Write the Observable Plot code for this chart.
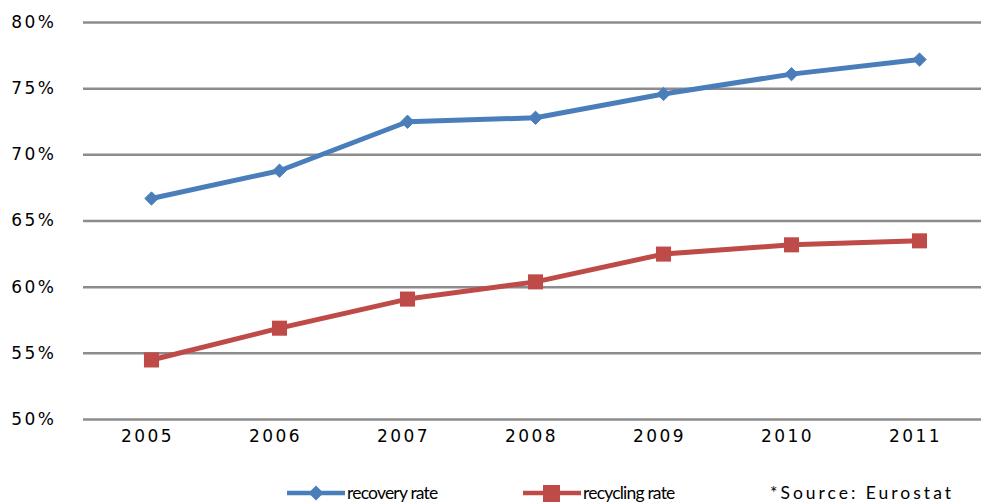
<!DOCTYPE html>
<html>
<head>
<meta charset="utf-8">
<script src="https://cdn.jsdelivr.net/npm/d3@7"></script>
<script src="https://cdn.jsdelivr.net/npm/@observablehq/plot@0.6"></script>
<style>
  body { margin: 0; background: #fff; font-family: "DejaVu Sans", sans-serif; }
  #wrap { width: 981px; position: relative; }
  #legend { position: relative; height: 44px; width: 981px; color: #000; }
  #legend .item { position: absolute; top: 22px; display: flex; align-items: center; white-space: nowrap; }
  #legend svg { display: block; }
</style>
</head>
<body>
<div id="wrap"></div>
<script>
const years = [2005, 2006, 2007, 2008, 2009, 2010, 2011];
const recoveryRate = [66.7, 68.8, 72.5, 72.8, 74.6, 76.1, 77.2];
const recyclingRate = [54.5, 56.9, 59.1, 60.4, 62.5, 63.2, 63.5];
const yTicks = [50, 55, 60, 65, 70, 75, 80];
const seriesNames = ["recovery rate", "recycling rate"];
const sourceNote = "*Source: Eurostat";

const blue = "#4a7ebb";
const red = "#be4b48";

const recovery = years.map((y, i) => ({year: y, value: recoveryRate[i]}));
const recycling = years.map((y, i) => ({year: y, value: recyclingRate[i]}));

const chart = Plot.plot({
  width: 981,
  height: 460,
  marginLeft: 83,
  marginRight: 0,
  marginTop: 22,
  marginBottom: 41,
  style: {fontFamily: "DejaVu Sans, sans-serif", fontSize: "17px", letterSpacing: "2.5px", color: "#000", background: "#fff"},
  x: {type: "point", domain: years, range: [148, 921], padding: 0, axis: null},
  y: {domain: [50, 80], axis: null},
  marks: [
    Plot.ruleY(yTicks, {stroke: "#8c8c8c", strokeWidth: 2.5}),
    Plot.text(yTicks, {frameAnchor: "left", y: d => d, text: d => d + "%", dx: -27, textAnchor: "end", fill: "#000", fontSize: 17}),
    Plot.text(years, {x: d => d, frameAnchor: "bottom", text: d => String(d), dy: 22, dx: -4, fill: "#000", fontSize: 17}),
    Plot.line(recovery, {x: "year", y: "value", stroke: blue, strokeWidth: 5}),
    Plot.dot(recovery, {x: "year", y: "value", symbol: "diamond2", fill: blue, stroke: blue, strokeWidth: 1, r: 6}),
    Plot.line(recycling, {x: "year", y: "value", stroke: red, strokeWidth: 5}),
    Plot.dot(recycling, {x: "year", y: "value", symbol: "square", fill: red, r: 8.5})
  ]
});
document.getElementById("wrap").appendChild(chart);

const legend = document.createElement("div");
legend.id = "legend";
legend.innerHTML = `
  <div class="item" style="left:285px">
    <svg width="62" height="20"><line x1="2" y1="10" x2="60" y2="10" stroke="${blue}" stroke-width="4.5"/><path d="M31 2.5 L38.5 10 L31 17.5 L23.5 10 Z" fill="${blue}"/></svg>
    <span style="font-family:Lato, sans-serif; font-size:17.5px; letter-spacing:-0.8px">${seriesNames[0]}</span>
  </div>
  <div class="item" style="left:521px">
    <svg width="62" height="20"><line x1="2" y1="10" x2="60" y2="10" stroke="${red}" stroke-width="4.5"/><rect x="22" y="2" width="17" height="17" fill="${red}"/></svg>
    <span style="font-family:Lato, sans-serif; font-size:17.5px; letter-spacing:-0.8px">${seriesNames[1]}</span>
  </div>
  <div class="item" style="left:770px">
    <span style="font-family:Lato, sans-serif; font-size:17.5px; letter-spacing:3px">${sourceNote}</span>
  </div>`;
document.getElementById("wrap").appendChild(legend);
</script>
</body>
</html>
